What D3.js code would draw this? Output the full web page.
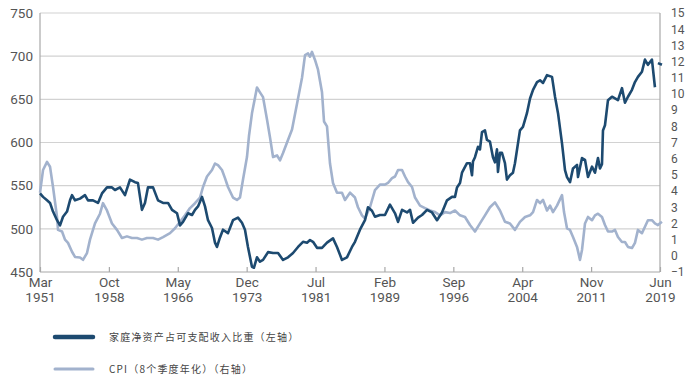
<!DOCTYPE html>
<html>
<head>
<meta charset="utf-8">
<script src="https://cdn.jsdelivr.net/npm/d3@7"></script>
<style>
body{margin:0;background:#fff}
svg text{font-family:"Liberation Sans Narrow","Roboto",sans-serif;fill:#555}
.legend text{font-family:"Noto Sans CJK SC",sans-serif;font-size:10px;fill:#444;letter-spacing:1.2px}
</style>
</head>
<body>
<div id="graph"></div>
<script>

// left axis (ratio) and right axis (CPI) tick labels
var leftTicks = [450, 500, 550, 600, 650, 700, 750]
var rightTicks = [-1, 0, 1, 2, 3, 4, 5, 6, 7, 8, 9, 10, 11, 12, 13, 14, 15]

// x ticks: month + year, every 91 months
var xTickMonths = ['Mar', 'Oct', 'May', 'Dec', 'Jul', 'Feb', 'Sep', 'Apr', 'Nov', 'Jun']
var xTickMonthIdx = [2, 9, 4, 11, 6, 1, 8, 3, 10, 5]
var xTickYears = [1951, 1958, 1966, 1973, 1981, 1989, 1996, 2004, 2011, 2019]

var legendNames = ['家庭净资产占可支配收入比重（左轴）', 'CPI（8个季度年化）（右轴）']

// household net worth / disposable income, [decimal year, value]
var netWorth = [
  [1951.17, 541], [1951.50, 537], [1951.94, 533], [1952.27, 530], [1952.60, 520], [1953.04, 510],
  [1953.37, 504], [1953.70, 514], [1954.14, 520], [1954.47, 533], [1954.69, 539], [1955.02, 533],
  [1955.57, 535], [1956.12, 539], [1956.45, 533], [1957.00, 533], [1957.55, 530], [1957.99, 541],
  [1958.54, 548], [1959.09, 548], [1959.42, 545], [1959.97, 548], [1960.52, 539], [1961.07, 557],
  [1961.62, 554], [1961.95, 553], [1962.39, 522], [1962.72, 530], [1963.05, 548], [1963.61, 548],
  [1964.16, 533], [1964.71, 530], [1965.26, 530], [1965.70, 522], [1966.25, 518], [1966.58, 504],
  [1966.91, 508], [1967.46, 518], [1967.90, 516], [1968.23, 522], [1968.56, 526], [1969.00, 537],
  [1969.33, 526], [1969.66, 510], [1970.10, 501], [1970.43, 484], [1970.65, 479], [1970.98, 490],
  [1971.31, 499], [1971.86, 495], [1972.41, 510], [1972.96, 513], [1973.40, 507], [1973.73, 499],
  [1974.06, 479], [1974.50, 456], [1974.72, 455], [1975.05, 467], [1975.38, 462], [1975.72, 464],
  [1976.27, 473], [1976.82, 472], [1977.37, 472], [1977.92, 464], [1978.47, 467], [1979.02, 472],
  [1979.57, 479], [1980.12, 485], [1980.56, 484], [1980.89, 487], [1981.22, 485], [1981.66, 478],
  [1982.21, 478], [1982.76, 484], [1983.42, 489], [1983.86, 479], [1984.41, 464], [1984.96, 467],
  [1985.51, 479], [1985.84, 485], [1986.39, 499], [1986.94, 510], [1987.27, 525], [1987.71, 521],
  [1988.04, 514], [1988.59, 516], [1989.14, 516], [1989.69, 528], [1990.25, 518], [1990.58, 508],
  [1991.02, 522], [1991.57, 519], [1991.90, 522], [1992.23, 507], [1992.78, 513], [1993.22, 516],
  [1993.77, 522], [1994.32, 519], [1994.87, 510], [1995.42, 519], [1995.97, 533], [1996.52, 537],
  [1996.85, 537], [1997.07, 548], [1997.40, 553], [1997.62, 565], [1998.17, 576], [1998.50, 576],
  [1998.72, 562], [1998.83, 578], [1999.05, 583], [1999.38, 595], [1999.60, 592], [1999.82, 612],
  [2000.15, 614], [2000.37, 603], [2000.70, 601], [2001.03, 583], [2001.25, 577], [2001.47, 592],
  [2001.58, 566], [2001.80, 588], [2002.02, 588], [2002.35, 576], [2002.57, 557], [2002.90, 562],
  [2003.23, 565], [2003.45, 576], [2004.00, 614], [2004.33, 618], [2004.77, 634], [2005.11, 651],
  [2005.44, 661], [2005.88, 670], [2006.21, 672], [2006.54, 669], [2006.98, 678], [2007.53, 676],
  [2007.86, 653], [2008.19, 634], [2008.63, 599], [2008.96, 568], [2009.18, 560], [2009.51, 554],
  [2009.84, 570], [2010.28, 574], [2010.39, 560], [2010.83, 582], [2011.16, 580], [2011.49, 560],
  [2011.93, 572], [2012.26, 565], [2012.59, 582], [2012.81, 570], [2013.03, 575], [2013.14, 614],
  [2013.36, 620], [2013.69, 649], [2014.13, 653], [2014.46, 651], [2014.79, 649], [2015.23, 663],
  [2015.56, 646], [2015.89, 653], [2016.33, 661], [2016.66, 670], [2016.99, 676], [2017.43, 682],
  [2017.76, 696], [2018.09, 690], [2018.53, 696], [2018.86, 664], [2019.02, null],
  [2019.19, 692], [2019.63, 690]
]

// CPI, 8 quarter annualised, [decimal year, value]
var cpi = [
  [1951.17, 3.9], [1951.50, 5.3], [1951.94, 5.8], [1952.27, 5.5], [1952.60, 4.25], [1953.04, 2.4],
  [1953.15, 1.6], [1953.59, 1.5], [1953.92, 1.0], [1954.25, 0.8], [1954.69, 0.25], [1955.02, -0.07],
  [1955.57, -0.1], [1955.90, -0.25], [1956.34, 0.17], [1956.67, 1.0], [1957.22, 2.0], [1957.77, 2.6],
  [1958.10, 3.25], [1958.54, 2.8], [1959.09, 2.0], [1959.64, 1.6], [1960.19, 1.1], [1960.74, 1.2],
  [1961.29, 1.1], [1961.84, 1.1], [1962.39, 1.0], [1962.94, 1.1], [1963.61, 1.1], [1964.16, 1.0],
  [1964.71, 1.16], [1965.48, 1.4], [1966.03, 1.7], [1966.58, 2.1], [1967.13, 2.5], [1967.68, 2.95],
  [1968.23, 3.25], [1968.78, 3.6], [1969.11, 4.25], [1969.55, 4.9], [1970.10, 5.3], [1970.43, 5.7],
  [1970.76, 5.6], [1971.20, 5.3], [1971.53, 4.8], [1971.86, 4.25], [1972.41, 3.6], [1972.85, 3.45],
  [1973.18, 3.6], [1973.51, 4.7], [1973.95, 6.1], [1974.17, 7.4], [1974.50, 8.8], [1975.05, 10.4],
  [1975.38, 10.1], [1975.72, 9.8], [1976.16, 8.4], [1976.49, 7.3], [1976.82, 6.1], [1977.26, 6.2],
  [1977.59, 5.9], [1977.92, 6.35], [1978.36, 7.0], [1978.91, 7.8], [1979.46, 9.4], [1980.01, 11.0],
  [1980.34, 12.4], [1980.67, 12.5], [1980.89, 12.3], [1981.11, 12.6], [1981.44, 12.1], [1981.77, 11.5],
  [1982.21, 10.1], [1982.43, 8.3], [1982.76, 8.0], [1983.09, 5.7], [1983.42, 4.5], [1983.86, 3.9],
  [1984.41, 3.9], [1984.74, 3.45], [1985.29, 3.9], [1985.84, 3.6], [1986.17, 3.0], [1986.61, 2.5],
  [1986.94, 2.3], [1987.49, 3.0], [1988.04, 4.06], [1988.59, 4.4], [1989.14, 4.4], [1989.47, 4.5],
  [1989.92, 4.8], [1990.25, 4.9], [1990.58, 5.3], [1991.02, 5.3], [1991.35, 4.9], [1991.68, 4.55],
  [1992.12, 4.25], [1992.45, 3.6], [1993.00, 3.1], [1993.55, 2.95], [1994.10, 2.8], [1994.65, 2.7],
  [1995.20, 2.5], [1995.75, 2.7], [1996.30, 2.64], [1996.85, 2.8], [1997.40, 2.5], [1997.95, 2.4],
  [1998.50, 1.9], [1999.05, 1.5], [1999.60, 2.0], [2000.15, 2.5], [2000.70, 3.0], [2001.25, 3.3],
  [2001.80, 2.8], [2002.35, 2.1], [2002.90, 2.0], [2003.45, 1.6], [2004.00, 2.1], [2004.56, 2.4],
  [2005.11, 2.5], [2005.44, 2.7], [2005.88, 3.45], [2006.21, 3.25], [2006.54, 3.45], [2006.98, 2.8],
  [2007.31, 3.1], [2007.64, 2.7], [2008.08, 3.1], [2008.63, 3.75], [2008.85, 2.7], [2009.18, 1.7],
  [2009.51, 1.6], [2009.84, 1.16], [2010.28, 0.55], [2010.61, -0.25], [2010.83, 0.36], [2011.16, 2.0],
  [2011.49, 2.4], [2011.93, 2.2], [2012.26, 2.5], [2012.59, 2.6], [2013.03, 2.4], [2013.36, 1.9],
  [2013.69, 1.5], [2014.13, 1.5], [2014.46, 1.6], [2014.79, 1.16], [2015.23, 0.85], [2015.56, 0.85],
  [2015.89, 0.55], [2016.33, 0.48], [2016.66, 0.8], [2016.99, 1.6], [2017.43, 1.4], [2017.76, 1.8],
  [2018.09, 2.2], [2018.53, 2.2], [2018.86, 2.0], [2019.19, 1.9], [2019.63, 2.1]
]

var darkColor = '#1d4a70'
var lightColor = '#a2b2cd'

var width = 693, height = 380
var margin = {left: 40, right: 33, top: 13, bottom: 108}

function _last(arr){ return arr[arr.length - 1] }

var svg = d3.select('#graph').append('svg')
  .attr('width', width).attr('height', height)

var x = d3.scaleLinear()
  .domain([xTickYears[0] + xTickMonthIdx[0]/12, _last(xTickYears) + _last(xTickMonthIdx)/12])
  .range([margin.left, width - margin.right])
var yL = d3.scaleLinear().domain([450, 750]).range([height - margin.bottom, margin.top])
var yR = d3.scaleLinear().domain([-1, 15]).range([height - margin.bottom, margin.top])

var x0 = x.range()[0], x1 = x.range()[1]
var yBot = yL.range()[0], yTop = yL.range()[1]

// gridlines
svg.append('g').selectAll('line')
  .data(leftTicks.slice(1))
  .join('line')
  .attr('x1', x0).attr('x2', x1)
  .attr('y1', d => yL(d)).attr('y2', d => yL(d))
  .attr('stroke', '#d2d2d2').attr('stroke-width', 1.2)

// frame lines: left, right, bottom
svg.append('g')
  .attr('stroke', '#a8a8a8').attr('stroke-width', 1.2)
  .call(g => {
    g.append('line').attr('x1', x0).attr('x2', x0).attr('y1', yTop).attr('y2', yBot)
    g.append('line').attr('x1', x1).attr('x2', x1).attr('y1', yTop).attr('y2', yBot)
    g.append('line').attr('x1', x0).attr('x2', x1).attr('y1', yBot).attr('y2', yBot)
  })

// left axis
var leftAxis = svg.append('g')
  .attr('transform', 'translate(' + x0 + ',0)')
  .call(d3.axisLeft(yL).tickValues(leftTicks).tickSize(0).tickPadding(7))
leftAxis.select('.domain').remove()
leftAxis.selectAll('text').attr('font-size', 13.5).attr('fill', '#555')

// right axis
var rightAxis = svg.append('g')
  .attr('transform', 'translate(' + x1 + ',0)')
  .call(d3.axisRight(yR).tickValues(rightTicks).tickSize(0).tickPadding(11))
rightAxis.select('.domain').remove()
rightAxis.selectAll('text').attr('font-size', 12).attr('fill', '#555')

// bottom axis, ticks pointing up, two-line labels as separate texts
var xTickVals = xTickYears.map((d, i) => d + xTickMonthIdx[i]/12)
var bottomAxis = svg.append('g')
  .attr('transform', 'translate(0,' + yBot + ')')
  .call(d3.axisBottom(x).tickValues(xTickVals).tickSize(-5).tickFormat(''))
bottomAxis.select('.domain').remove()
bottomAxis.selectAll('.tick text').remove()
bottomAxis.selectAll('line').attr('stroke', '#a8a8a8').attr('stroke-width', 1.2)

var tickLabels = bottomAxis.selectAll('.tick')
tickLabels.append('text')
  .attr('y', 15).attr('text-anchor', 'middle')
  .attr('font-size', 13.5).attr('fill', '#555')
  .text((d, i) => xTickMonths[i])
tickLabels.append('text')
  .attr('y', 30).attr('text-anchor', 'middle')
  .attr('font-size', 13.5).attr('fill', '#555')
  .text((d, i) => xTickYears[i])

// series lines
var lineR = d3.line()
  .x(d => x(d[0])).y(d => yR(d[1]))
var lineL = d3.line()
  .defined(d => d[1] != null)
  .x(d => x(d[0])).y(d => yL(d[1]))

svg.append('path')
  .datum(cpi)
  .attr('d', lineR)
  .attr('fill', 'none').attr('stroke', lightColor).attr('stroke-width', 2.6)
  .attr('stroke-linejoin', 'round')

svg.append('path')
  .datum(netWorth)
  .attr('d', lineL)
  .attr('fill', 'none').attr('stroke', darkColor).attr('stroke-width', 2.6)
  .attr('stroke-linejoin', 'round')

// legend
var legend = svg.append('g').attr('class', 'legend')
var legendRows = legend.selectAll('g')
  .data(legendNames)
  .join('g')
  .attr('transform', (d, i) => 'translate(55,' + (337 + i*32) + ')')

legendRows.append('line')
  .attr('x1', 0).attr('x2', 38)
  .attr('stroke', (d, i) => i == 0 ? darkColor : lightColor)
  .attr('stroke-width', (d, i) => i == 0 ? 4.5 : 3)
  .attr('stroke-linecap', 'round')

legendRows.append('text')
  .attr('x', 54).attr('dy', '0.35em')
  .text(d => d)

</script>
</body>
</html>
